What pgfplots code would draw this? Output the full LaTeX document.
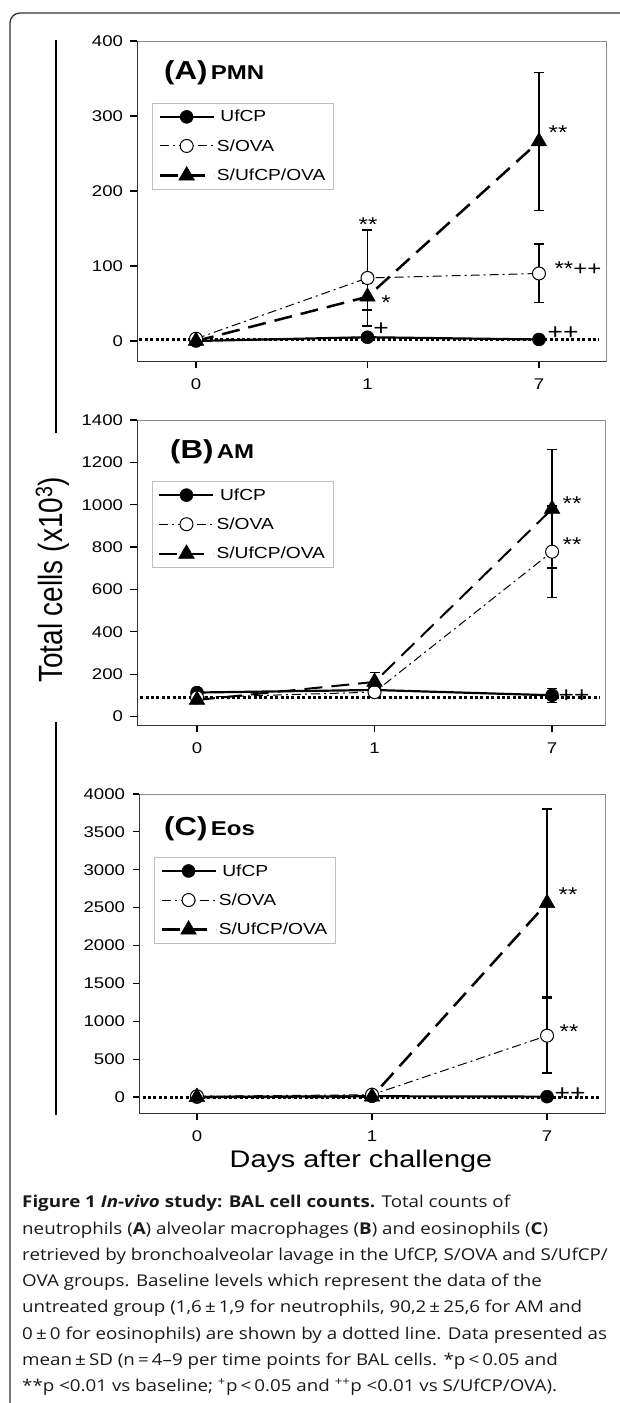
\documentclass[border=0pt]{standalone}
\usepackage{fontspec}
\usepackage{pgfplots}
\pgfplotsset{compat=1.18}
\setmainfont{Liberation Sans}
\newfontfamily\cf[FakeStretch=1.2]{Liberation Sans}
\newfontfamily\capfont{Open Sans}

\pgfplotsset{
  panel/.style={
    scale only axis, anchor=south west,
    axis line style={draw=none},
    xtick={0,1,2}, xticklabels={0,1,7},
    xtick pos=bottom, ytick pos=left,
    tick align=outside, major tick length=6.5pt,
    tick style={black, line width=1.2pt},
    minor tick num=0,
    ticklabel style={font=\cf\fontsize{15.5}{18}\selectfont},
    xticklabel style={yshift=-7pt},
    yticklabel style={xshift=-4pt},
    /pgf/number format/assume math mode=true,
    /pgf/number format/set thousands separator={},
    scaled y ticks=false,
    clip=false,
    legend cell align=left,
    legend style={anchor=north west, draw=black!25, line width=0.8pt, fill=white,
      inner xsep=6pt, inner ysep=5pt, row sep=12pt,
      font=\cf\fontsize{16}{18}\selectfont,
      /tikz/every even column/.append style={column sep=5pt}},
    legend image code/.code={\draw[mark repeat=2,mark phase=2,##1] plot coordinates {(0pt,0pt) (27pt,0pt) (54pt,0pt)};},
  },
  base/.style={forget plot, black, line width=3pt, dash pattern=on 3pt off 2.4pt, mark=none},
  s1/.style={black, solid, line width=2.2pt, mark=*, mark size=6.5pt, mark options={solid, line width=0.5pt}},
  s2/.style={black, line width=1pt, dash pattern=on 9pt off 4pt on 2pt off 4pt, mark=*, mark size=6.5pt, mark options={solid, fill=white, draw=black, line width=1pt}},
  s3/.style={black, line width=2.5pt, dash pattern=on 18pt off 9pt, mark=triangle*, mark size=9pt, mark options={solid, line width=0.5pt}},
  eb/.style={error bars/.cd, y dir=both, y explicit,
    error bar style={solid, line width=1.5pt, black},
    error mark options={rotate=90, mark size=5pt, line width=1.5pt, solid, black}},
}

\begin{document}
\begin{tikzpicture}
\begin{scope}[x=1pt,y=1pt]
\useasboundingbox (0,0) rectangle (620,1403);
\draw[black!80, line width=1.3pt, rounded corners=10pt] (10,-10) -- (10,1390) -- (640,1390);
\draw[line width=1.5pt] (56,1363) -- (56,970);
\draw[line width=1.5pt] (56,681) -- (56,288);
\end{scope}

% (A) PMN
\begin{axis}[panel, at={(137pt,1041pt)}, width=469pt, height=321pt,
  xmin=-0.344, xmax=2.391, ymin=-28, ymax=400, ytick={0,100,...,400},
  legend style={at={(0.032,0.807)}}]
\addplot[base] coordinates {(-0.33,1.6) (2.35,1.6)};
\addplot[s1, eb] coordinates {(0,0) +- (0,1) (1,5) +- (0,3) (2,2) +- (0,1)};
\addlegendentry{\hspace{3.5pt}UfCP}
\addplot[s2, eb] coordinates {(0,3) +- (0,2) (1,84) +- (0,64) (2,90) +- (0,39)};
\addlegendentry{S/OVA}
\addplot[s3, eb] coordinates {(0,0) +- (0,1) (1,59) +- (0,18) (2,266) +- (0,92)};
\addlegendentry{S/UfCP/OVA}
\draw[black!45, line width=0.9pt] (rel axis cs:0,1) -- (rel axis cs:1,1) -- (rel axis cs:1,0);
\draw[black!80, line width=1pt] (rel axis cs:0,1) -- (rel axis cs:0,0) -- (rel axis cs:1,0);
\end{axis}

% (B) AM
\begin{axis}[panel, at={(137pt,677pt)}, width=468pt, height=306pt,
  xmin=-0.338, xmax=2.298, ymin=-45, ymax=1400, ytick={0,200,...,1400},
  legend style={at={(0.032,0.80)}}]
\addplot[base] coordinates {(-0.32,90.2) (2.27,90.2)};
\addplot[s1, eb] coordinates {(0,113) +- (0,20) (1,125) +- (0,35) (2,100) +- (0,33)};
\addlegendentry{\hspace{3.5pt}UfCP}
\addplot[s2, eb] coordinates {(0,90) +- (0,20) (1,115) +- (0,25) (2,778) +- (0,217)};
\addlegendentry{S/OVA}
\addplot[s3, line width=2pt, eb] coordinates {(0,78) +- (0,15) (1,163) +- (0,44) (2,980) +- (0,280)};
\addlegendentry{S/UfCP/OVA}
\draw[black!45, line width=0.9pt] (rel axis cs:0,1) -- (rel axis cs:1,1) -- (rel axis cs:1,0);
\draw[black!80, line width=1pt] (rel axis cs:0,1) -- (rel axis cs:0,0) -- (rel axis cs:1,0);
\end{axis}

% (C) Eos
\begin{axis}[panel, at={(139pt,289pt)}, width=466pt, height=320pt,
  xmin=-0.331, xmax=2.331, ymin=-224, ymax=4000, ytick={0,500,...,4000},
  legend style={at={(0.032,0.803)}}]
\addplot[base] coordinates {(-0.31,0) (2.30,0)};
\addplot[s1, eb] coordinates {(0,0) +- (0,5) (1,10) +- (0,10) (2,5) +- (0,5)};
\addlegendentry{\hspace{3.5pt}UfCP}
\addplot[s2, eb] coordinates {(0,10) +- (0,10) (1,30) +- (0,20) (2,810) +- (0,490)};
\addlegendentry{S/OVA}
\addplot[s3, eb] coordinates {(0,0) +- (0,5) (1,5) +- (0,5) (2,2560) +- (0,1240)};
\addlegendentry{S/UfCP/OVA}
\draw[black!45, line width=0.9pt] (rel axis cs:0,1) -- (rel axis cs:1,1) -- (rel axis cs:1,0);
\draw[black!80, line width=1pt] (rel axis cs:0,1) -- (rel axis cs:0,0) -- (rel axis cs:1,0);
\end{axis}

\begin{scope}[x=1pt,y=1pt]
% panel titles
\begin{scope}[every node/.style={anchor=base west, inner sep=0, xscale=1.2, font=\bfseries}]
\node at (164,1323) {{\fontsize{26}{28}\selectfont(A)} {\fontsize{20}{22}\selectfont PMN}};
\node at (170,944) {{\fontsize{26}{28}\selectfont(B)} {\fontsize{20}{22}\selectfont AM}};
\node at (164,567) {{\fontsize{26}{28}\selectfont(C)} {\fontsize{20}{22}\selectfont Eos}};
\end{scope}

% significance marks
\begin{scope}[every node/.style={anchor=base, inner sep=0, font=\cf\fontsize{20}{22}\selectfont}]
\node at (368,1171) {**};
\node at (386,1093) {*};
\node at (558,1263) {**};
\node at (578,1127) {**++};
\node at (572,892) {**};
\node at (572,851) {**};
\node at (568,501) {**};
\node at (569,364) {**};
\end{scope}
\begin{scope}[every node/.style={anchor=base, inner sep=0, font=\cf\fontsize{22}{24}\selectfont}]
\node at (381,1067) {+};
\node at (563,1063) {++};
\node at (574,700) {++};
\node at (570,302) {++};
\end{scope}

% axis titles
\node[anchor=base, inner sep=0, font=\cf\fontsize{24}{28}\selectfont] at (361,235) {Days after challenge};
\node[xscale=1.2, rotate=90, anchor=base, inner sep=0, font=\fontsize{28}{32}\selectfont] at (63,823) {Total cells (x10\textsuperscript{3})};

% caption
\begin{scope}[every node/.style={anchor=base west, inner sep=0, xscale=1.15, font=\capfont\fontsize{16.3}{19}\selectfont, text=black!90}]
\node at (22,195) {\textbf{Figure 1} \textbf{\textit{In-vivo}} \textbf{study: BAL cell counts.} Total counts of};
\node at (22,168.75) {neutrophils (\textbf{A}) alveolar macrophages (\textbf{B}) and eosinophils (\textbf{C})};
\node at (22,142.5) {retrieved by bronchoalveolar lavage in the UfCP, S/OVA and S/UfCP/};
\node at (22,116.25) {OVA groups. Baseline levels which represent the data of the};
\node at (22,90) {untreated group (1,6\,±\,1,9 for neutrophils, 90,2\,±\,25,6 for AM and};
\node at (22,63.75) {0\,±\,0 for eosinophils) are shown by a dotted line. Data presented as};
\node at (22,37.5) {mean\,±\,SD (n\,=\,4–9 per time points for BAL cells. *p\,<\,0.05 and};
\node at (22,11.25) {**p <0.01 vs baseline; \textsuperscript{+}p\,<\,0.05 and \textsuperscript{++}p <0.01 vs S/UfCP/OVA).};
\end{scope}
\end{scope}
\end{tikzpicture}
\end{document}
